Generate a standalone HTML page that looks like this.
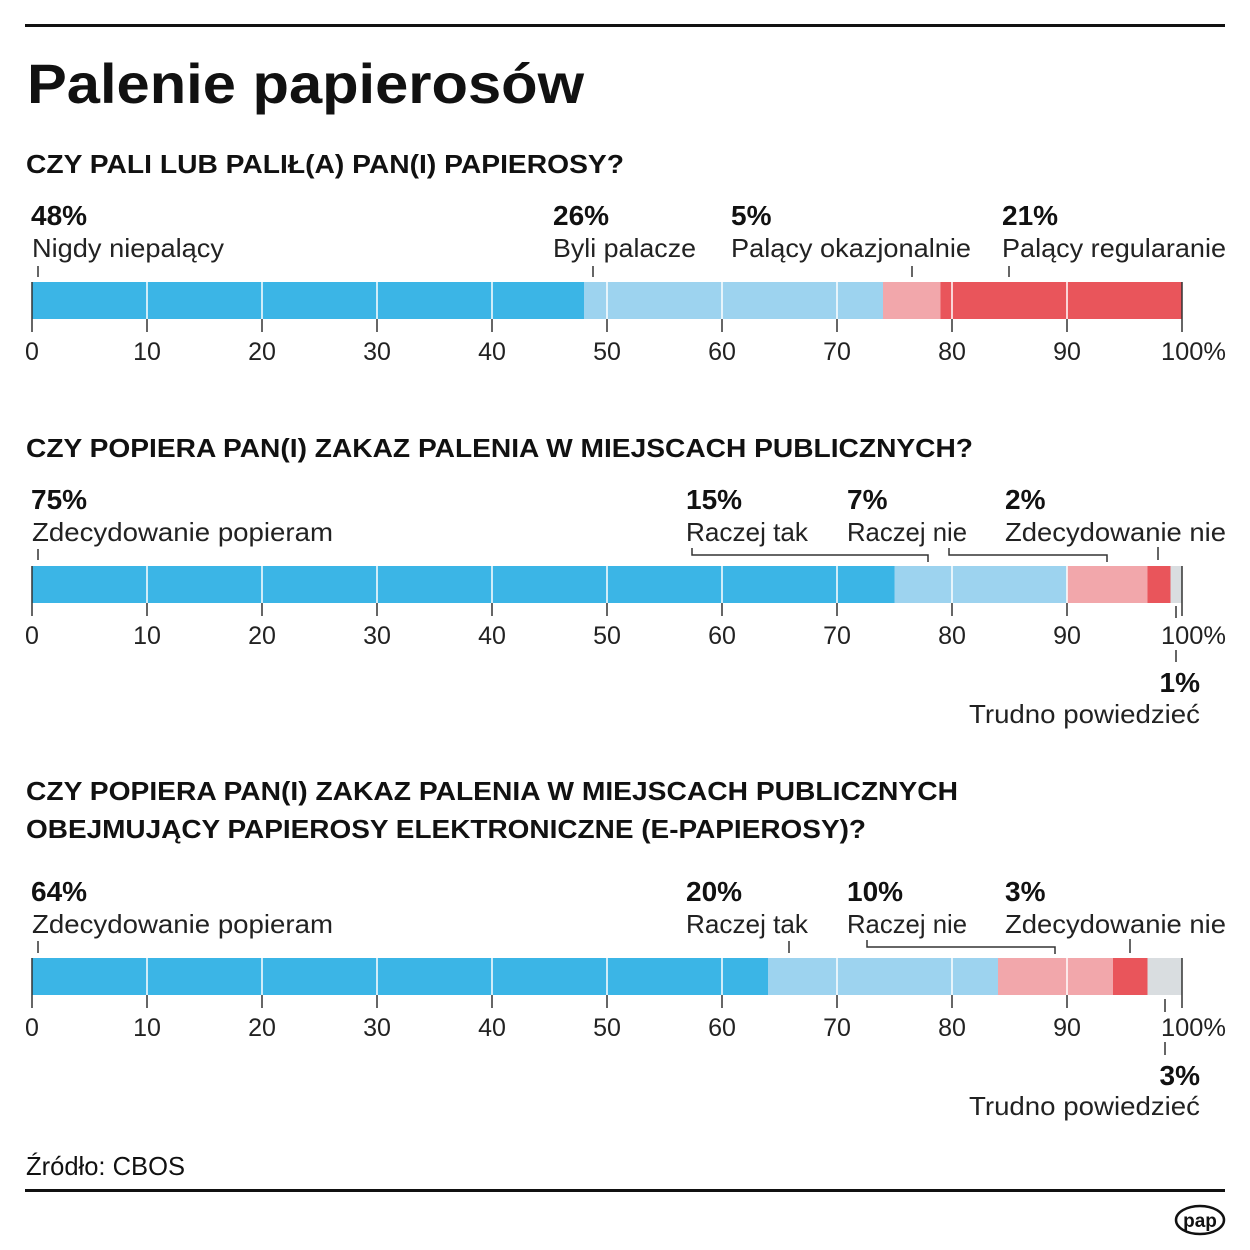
<!DOCTYPE html>
<html><head><meta charset="utf-8"><style>
html,body{margin:0;padding:0;background:#fff;}
svg{display:block;}
text{font-family:"Liberation Sans",sans-serif;fill:#111;}
.b{font-weight:bold;}
.l{font-size:26px;fill:#222;}
.p{font-size:28px;font-weight:bold;}
.t{font-size:25px;fill:#222;}
.h{font-size:26px;font-weight:bold;}
</style></head><body>
<svg width="1250" height="1250" viewBox="0 0 1250 1250" xmlns="http://www.w3.org/2000/svg">
<rect width="1250" height="1250" fill="#fff"/>
<rect x="25" y="24" width="1200" height="3" fill="#111"/>
<text x="27" y="103" class="b" font-size="56" textLength="557" lengthAdjust="spacingAndGlyphs">Palenie papierosów</text>
<text x="26" y="173" class="h" textLength="598" lengthAdjust="spacingAndGlyphs">CZY PALI LUB PALIŁ(A) PAN(I) PAPIEROSY?</text>

<!-- Chart 1 -->
<g>
<text x="31" y="225" class="p">48%</text>
<text x="32" y="257" class="l" textLength="192" lengthAdjust="spacingAndGlyphs">Nigdy niepalący</text>
<text x="553" y="225" class="p">26%</text>
<text x="553" y="257" class="l" textLength="143" lengthAdjust="spacingAndGlyphs">Byli palacze</text>
<text x="731" y="225" class="p">5%</text>
<text x="731" y="257" class="l" textLength="240" lengthAdjust="spacingAndGlyphs">Palący okazjonalnie</text>
<text x="1002" y="225" class="p">21%</text>
<text x="1002" y="257" class="l" textLength="224" lengthAdjust="spacingAndGlyphs">Palący regularanie</text>
<g stroke="#333" stroke-width="1.5">
<line x1="38" y1="266" x2="38" y2="277"/><line x1="593" y1="266" x2="593" y2="277"/>
<line x1="912" y1="266" x2="912" y2="277"/><line x1="1009" y1="266" x2="1009" y2="277"/>
</g>
<rect x="32" y="282" width="552" height="37" fill="#3bb5e6"/>
<rect x="584" y="282" width="299" height="37" fill="#9dd3ef"/>
<rect x="883" y="282" width="57.5" height="37" fill="#f2a7ab"/>
<rect x="940.5" y="282" width="241.5" height="37" fill="#e9555b"/>
</g>

<!-- Chart 2 -->
<text x="26" y="457" class="h" textLength="947" lengthAdjust="spacingAndGlyphs">CZY POPIERA PAN(I) ZAKAZ PALENIA W MIEJSCACH PUBLICZNYCH?</text>
<text x="31" y="509" class="p">75%</text>
<text x="32" y="541" class="l" textLength="301" lengthAdjust="spacingAndGlyphs">Zdecydowanie popieram</text>
<text x="686" y="509" class="p">15%</text>
<text x="686" y="541" class="l" textLength="122" lengthAdjust="spacingAndGlyphs">Raczej tak</text>
<text x="847" y="509" class="p">7%</text>
<text x="847" y="541" class="l" textLength="120" lengthAdjust="spacingAndGlyphs">Raczej nie</text>
<text x="1005" y="509" class="p">2%</text>
<text x="1005" y="541" class="l" textLength="221" lengthAdjust="spacingAndGlyphs">Zdecydowanie nie</text>
<g stroke="#333" stroke-width="1.5" fill="none">
<line x1="38" y1="549" x2="38" y2="560"/>
<polyline points="692,548 692,555 928,555 928,562"/>
<polyline points="949,548 949,555 1107,555 1107,562"/>
<line x1="1158" y1="547" x2="1158" y2="560"/>
</g>
<rect x="32" y="566" width="862.5" height="37" fill="#3bb5e6"/>
<rect x="894.5" y="566" width="172.5" height="37" fill="#9dd3ef"/>
<rect x="1067" y="566" width="80.5" height="37" fill="#f2a7ab"/>
<rect x="1147.5" y="566" width="23" height="37" fill="#e9555b"/>
<rect x="1170.5" y="566" width="11.5" height="37" fill="#d9dde0"/>
<g stroke="#333" stroke-width="1.5"><line x1="1176" y1="606" x2="1176" y2="618"/><line x1="1176" y1="650" x2="1176" y2="662"/></g>
<text x="1200" y="692" class="p" text-anchor="end">1%</text>
<text x="1200" y="723" class="l" text-anchor="end" textLength="231" lengthAdjust="spacingAndGlyphs">Trudno powiedzieć</text>

<!-- Chart 3 -->
<text x="26" y="800" class="h" textLength="932" lengthAdjust="spacingAndGlyphs">CZY POPIERA PAN(I) ZAKAZ PALENIA W MIEJSCACH PUBLICZNYCH</text>
<text x="26" y="838" class="h" textLength="840" lengthAdjust="spacingAndGlyphs">OBEJMUJĄCY PAPIEROSY ELEKTRONICZNE (E-PAPIEROSY)?</text>
<text x="31" y="901" class="p">64%</text>
<text x="32" y="933" class="l" textLength="301" lengthAdjust="spacingAndGlyphs">Zdecydowanie popieram</text>
<text x="686" y="901" class="p">20%</text>
<text x="686" y="933" class="l" textLength="122" lengthAdjust="spacingAndGlyphs">Raczej tak</text>
<text x="847" y="901" class="p">10%</text>
<text x="847" y="933" class="l" textLength="120" lengthAdjust="spacingAndGlyphs">Raczej nie</text>
<text x="1005" y="901" class="p">3%</text>
<text x="1005" y="933" class="l" textLength="221" lengthAdjust="spacingAndGlyphs">Zdecydowanie nie</text>
<g stroke="#333" stroke-width="1.5" fill="none">
<line x1="38" y1="941" x2="38" y2="953"/>
<line x1="789" y1="941" x2="789" y2="953"/>
<polyline points="867,940 867,947 1055,947 1055,954"/>
<line x1="1130" y1="939" x2="1130" y2="953"/>
</g>
<rect x="32" y="958" width="736" height="37" fill="#3bb5e6"/>
<rect x="768" y="958" width="230" height="37" fill="#9dd3ef"/>
<rect x="998" y="958" width="115" height="37" fill="#f2a7ab"/>
<rect x="1113" y="958" width="34.5" height="37" fill="#e9555b"/>
<rect x="1147.5" y="958" width="34.5" height="37" fill="#d9dde0"/>
<g stroke="#333" stroke-width="1.5"><line x1="1165" y1="999" x2="1165" y2="1012"/><line x1="1165" y1="1042" x2="1165" y2="1055"/></g>
<text x="1200" y="1085" class="p" text-anchor="end">3%</text>
<text x="1200" y="1115" class="l" text-anchor="end" textLength="231" lengthAdjust="spacingAndGlyphs">Trudno powiedzieć</text>

<!-- axes -->
<g id="ax">
<g stroke="#fff" stroke-width="1.5">
<line x1="147" y1="282" x2="147" y2="319"/><line x1="262" y1="282" x2="262" y2="319"/><line x1="377" y1="282" x2="377" y2="319"/><line x1="492" y1="282" x2="492" y2="319"/><line x1="607" y1="282" x2="607" y2="319"/><line x1="722" y1="282" x2="722" y2="319"/><line x1="837" y1="282" x2="837" y2="319"/><line x1="952" y1="282" x2="952" y2="319"/><line x1="1067" y1="282" x2="1067" y2="319"/>
</g>
<g stroke="#333" stroke-width="1.5">
<line x1="32" y1="282" x2="32" y2="332"/><line x1="1182" y1="282" x2="1182" y2="332"/>
<line x1="147" y1="319" x2="147" y2="332"/><line x1="262" y1="319" x2="262" y2="332"/><line x1="377" y1="319" x2="377" y2="332"/><line x1="492" y1="319" x2="492" y2="332"/><line x1="607" y1="319" x2="607" y2="332"/><line x1="722" y1="319" x2="722" y2="332"/><line x1="837" y1="319" x2="837" y2="332"/><line x1="952" y1="319" x2="952" y2="332"/><line x1="1067" y1="319" x2="1067" y2="332"/>
</g>
<text x="32" y="360" class="t" text-anchor="middle">0</text><text x="147" y="360" class="t" text-anchor="middle">10</text><text x="262" y="360" class="t" text-anchor="middle">20</text><text x="377" y="360" class="t" text-anchor="middle">30</text><text x="492" y="360" class="t" text-anchor="middle">40</text><text x="607" y="360" class="t" text-anchor="middle">50</text><text x="722" y="360" class="t" text-anchor="middle">60</text><text x="837" y="360" class="t" text-anchor="middle">70</text><text x="952" y="360" class="t" text-anchor="middle">80</text><text x="1067" y="360" class="t" text-anchor="middle">90</text><text x="1161" y="360" class="t" text-anchor="start" textLength="65" lengthAdjust="spacingAndGlyphs">100%</text>
</g>
<use href="#ax" y="284"/>
<use href="#ax" y="676"/>

<text x="26" y="1175" font-size="26" fill="#222" textLength="159" lengthAdjust="spacingAndGlyphs">Źródło: CBOS</text>
<rect x="25" y="1189" width="1200" height="3" fill="#111"/>
<ellipse cx="1200" cy="1220" rx="24" ry="14" fill="#fff" stroke="#111" stroke-width="2.5"/>
<text x="1200" y="1227" class="b" font-size="19" text-anchor="middle">pap</text>
</svg>
</body></html>
